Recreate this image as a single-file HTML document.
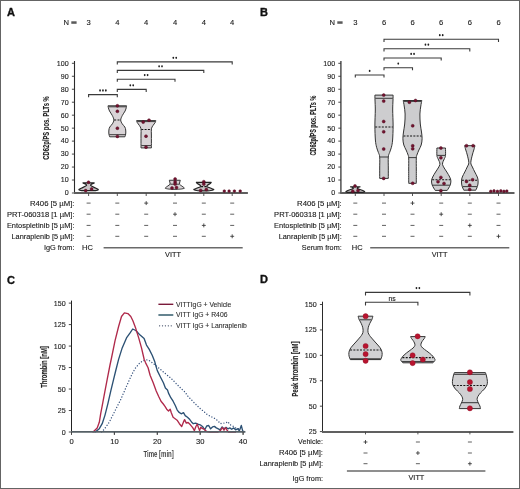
<!DOCTYPE html><html><head><meta charset="utf-8"><style>html,body{margin:0;padding:0;background:#fff;}svg{display:block;will-change:transform;}text{font-family:"Liberation Sans", sans-serif;}</style></head><body>
<svg width="520" height="489" viewBox="0 0 520 489">
<rect x="0" y="0" width="520" height="489" fill="#fff"/>
<text x="7.00" y="15.80" font-size="11.0" text-anchor="start" font-weight="bold" fill="#111" stroke="#111" stroke-width="0.35">A</text>
<text x="63.60" y="25.40" font-size="7.6" text-anchor="start" font-weight="normal" fill="#202020"  stroke="#202020" stroke-width="0.12">N</text>
<rect x="71.30" y="21.3" width="5.3" height="2.5" fill="#5a5a5a"/>
<text x="88.60" y="25.40" font-size="7.6" text-anchor="middle" font-weight="normal" fill="#202020"  stroke="#202020" stroke-width="0.12">3</text>
<text x="117.30" y="25.40" font-size="7.6" text-anchor="middle" font-weight="normal" fill="#202020"  stroke="#202020" stroke-width="0.12">4</text>
<text x="146.20" y="25.40" font-size="7.6" text-anchor="middle" font-weight="normal" fill="#202020"  stroke="#202020" stroke-width="0.12">4</text>
<text x="175.00" y="25.40" font-size="7.6" text-anchor="middle" font-weight="normal" fill="#202020"  stroke="#202020" stroke-width="0.12">4</text>
<text x="203.80" y="25.40" font-size="7.6" text-anchor="middle" font-weight="normal" fill="#202020"  stroke="#202020" stroke-width="0.12">4</text>
<text x="232.20" y="25.40" font-size="7.6" text-anchor="middle" font-weight="normal" fill="#202020"  stroke="#202020" stroke-width="0.12">4</text>
<line x1="74.50" y1="61.00" x2="74.50" y2="193.50" stroke="#2a2a2a" stroke-width="1.1" />
<line x1="71.90" y1="193.00" x2="74.50" y2="193.00" stroke="#333" stroke-width="0.9" />
<text x="68.70" y="195.35" font-size="7.1" text-anchor="end" font-weight="normal" fill="#222"  stroke="#222" stroke-width="0.12">0</text>
<line x1="71.90" y1="180.03" x2="74.50" y2="180.03" stroke="#333" stroke-width="0.9" />
<text x="68.70" y="182.38" font-size="7.1" text-anchor="end" font-weight="normal" fill="#222"  stroke="#222" stroke-width="0.12">10</text>
<line x1="71.90" y1="167.06" x2="74.50" y2="167.06" stroke="#333" stroke-width="0.9" />
<text x="68.70" y="169.41" font-size="7.1" text-anchor="end" font-weight="normal" fill="#222"  stroke="#222" stroke-width="0.12">20</text>
<line x1="71.90" y1="154.09" x2="74.50" y2="154.09" stroke="#333" stroke-width="0.9" />
<text x="68.70" y="156.44" font-size="7.1" text-anchor="end" font-weight="normal" fill="#222"  stroke="#222" stroke-width="0.12">30</text>
<line x1="71.90" y1="141.12" x2="74.50" y2="141.12" stroke="#333" stroke-width="0.9" />
<text x="68.70" y="143.47" font-size="7.1" text-anchor="end" font-weight="normal" fill="#222"  stroke="#222" stroke-width="0.12">40</text>
<line x1="71.90" y1="128.15" x2="74.50" y2="128.15" stroke="#333" stroke-width="0.9" />
<text x="68.70" y="130.50" font-size="7.1" text-anchor="end" font-weight="normal" fill="#222"  stroke="#222" stroke-width="0.12">50</text>
<line x1="71.90" y1="115.18" x2="74.50" y2="115.18" stroke="#333" stroke-width="0.9" />
<text x="68.70" y="117.53" font-size="7.1" text-anchor="end" font-weight="normal" fill="#222"  stroke="#222" stroke-width="0.12">60</text>
<line x1="71.90" y1="102.21" x2="74.50" y2="102.21" stroke="#333" stroke-width="0.9" />
<text x="68.70" y="104.56" font-size="7.1" text-anchor="end" font-weight="normal" fill="#222"  stroke="#222" stroke-width="0.12">70</text>
<line x1="71.90" y1="89.24" x2="74.50" y2="89.24" stroke="#333" stroke-width="0.9" />
<text x="68.70" y="91.59" font-size="7.1" text-anchor="end" font-weight="normal" fill="#222"  stroke="#222" stroke-width="0.12">80</text>
<line x1="71.90" y1="76.27" x2="74.50" y2="76.27" stroke="#333" stroke-width="0.9" />
<text x="68.70" y="78.62" font-size="7.1" text-anchor="end" font-weight="normal" fill="#222"  stroke="#222" stroke-width="0.12">90</text>
<line x1="71.90" y1="63.30" x2="74.50" y2="63.30" stroke="#333" stroke-width="0.9" />
<text x="68.70" y="65.65" font-size="7.1" text-anchor="end" font-weight="normal" fill="#222"  stroke="#222" stroke-width="0.12">100</text>
<line x1="74.00" y1="193.00" x2="247.90" y2="193.00" stroke="#5e5e5e" stroke-width="1.8" />
<line x1="88.60" y1="193.00" x2="88.60" y2="196.00" stroke="#444" stroke-width="0.9" />
<line x1="117.30" y1="193.00" x2="117.30" y2="196.00" stroke="#444" stroke-width="0.9" />
<line x1="146.20" y1="193.00" x2="146.20" y2="196.00" stroke="#444" stroke-width="0.9" />
<line x1="175.00" y1="193.00" x2="175.00" y2="196.00" stroke="#444" stroke-width="0.9" />
<line x1="203.80" y1="193.00" x2="203.80" y2="196.00" stroke="#444" stroke-width="0.9" />
<line x1="232.20" y1="193.00" x2="232.20" y2="196.00" stroke="#444" stroke-width="0.9" />
<text x="0.00" y="0.00" font-size="8.7" text-anchor="middle" font-weight="bold" fill="#222" textLength="63.6" lengthAdjust="spacingAndGlyphs" transform="translate(49.40,128.0) rotate(-90)" stroke="#222" stroke-width="0.1">CD62p/PS pos. PLTs %</text>
<path d="M94.20,182.90 C93.60,183.30 90.20,184.35 90.60,185.30 C91.00,186.25 95.33,187.83 96.60,188.60 C97.87,189.37 98.53,189.55 98.20,189.90 C97.87,190.25 95.20,190.57 94.60,190.70 L82.60,190.70 C82.00,190.57 79.33,190.25 79.00,189.90 C78.67,189.55 79.33,189.37 80.60,188.60 C81.87,187.83 86.20,186.25 86.60,185.30 C87.00,184.35 83.60,183.30 83.00,182.90 Z" fill="#c9c4c6" stroke="#222" stroke-width="1.2" stroke-linejoin="round"/>
<path d="M126.60,105.80 C126.55,106.08 126.55,106.63 126.30,107.50 C126.05,108.37 125.77,109.67 125.10,111.00 C124.43,112.33 123.03,114.00 122.30,115.50 C121.57,117.00 120.72,118.62 120.70,120.00 C120.68,121.38 121.52,122.63 122.20,123.80 C122.88,124.97 124.22,125.97 124.80,127.00 C125.38,128.03 125.55,128.83 125.70,130.00 C125.85,131.17 125.83,132.87 125.70,134.00 C125.57,135.13 125.03,136.33 124.90,136.80 L109.70,136.80 C109.57,136.33 109.03,135.13 108.90,134.00 C108.77,132.87 108.75,131.17 108.90,130.00 C109.05,128.83 109.22,128.03 109.80,127.00 C110.38,125.97 111.72,124.97 112.40,123.80 C113.08,122.63 113.92,121.38 113.90,120.00 C113.88,118.62 113.03,117.00 112.30,115.50 C111.57,114.00 110.17,112.33 109.50,111.00 C108.83,109.67 108.55,108.37 108.30,107.50 C108.05,106.63 108.05,106.08 108.00,105.80 Z" fill="#d9d4d7" stroke="#333" stroke-width="1.0" stroke-linejoin="round"/>
<line x1="108.48" y1="106.80" x2="126.12" y2="106.80" stroke="#2a2a2a" stroke-width="0.9"/>
<line x1="114.20" y1="120.00" x2="120.40" y2="120.00" stroke="#151515" stroke-width="1.05" stroke-dasharray="2,1.3"/>
<line x1="109.40" y1="134.70" x2="125.20" y2="134.70" stroke="#2a2a2a" stroke-width="0.9"/>
<path d="M155.80,120.60 C155.70,120.92 155.67,121.68 155.20,122.50 C154.73,123.32 153.63,124.45 153.00,125.50 C152.37,126.55 151.67,127.22 151.40,128.80 C151.13,130.38 151.40,132.80 151.40,135.00 C151.40,137.20 151.40,139.85 151.40,142.00 C151.40,144.15 151.40,146.92 151.40,147.90 L141.00,147.90 C141.00,146.92 141.00,144.15 141.00,142.00 C141.00,139.85 141.00,137.20 141.00,135.00 C141.00,132.80 141.27,130.38 141.00,128.80 C140.73,127.22 140.03,126.55 139.40,125.50 C138.77,124.45 137.67,123.32 137.20,122.50 C136.73,121.68 136.70,120.92 136.60,120.60 Z" fill="#d9d4d7" stroke="#333" stroke-width="1.0" stroke-linejoin="round"/>
<line x1="137.22" y1="121.60" x2="155.18" y2="121.60" stroke="#2a2a2a" stroke-width="0.9"/>
<line x1="141.30" y1="129.40" x2="151.10" y2="129.40" stroke="#151515" stroke-width="1.05" stroke-dasharray="2,1.3"/>
<line x1="141.30" y1="145.60" x2="151.10" y2="145.60" stroke="#2a2a2a" stroke-width="0.9"/>
<path d="M180.30,180.25 C180.22,180.54 179.92,181.33 179.80,182.00 C179.68,182.67 179.27,183.58 179.60,184.25 C179.93,184.92 181.10,185.46 181.80,186.00 C182.50,186.54 183.38,187.12 183.80,187.50 C184.22,187.88 184.72,188.05 184.30,188.30 C183.88,188.55 182.38,188.83 181.30,189.00 C180.22,189.17 178.38,189.25 177.80,189.30 L171.80,189.30 C171.22,189.25 169.38,189.17 168.30,189.00 C167.22,188.83 165.72,188.55 165.30,188.30 C164.88,188.05 165.38,187.88 165.80,187.50 C166.22,187.12 167.10,186.54 167.80,186.00 C168.50,185.46 169.67,184.92 170.00,184.25 C170.33,183.58 169.92,182.67 169.80,182.00 C169.68,181.33 169.38,180.54 169.30,180.25 Z" fill="#d9d4d7" stroke="#333" stroke-width="1.0" stroke-linejoin="round"/>
<line x1="170.30" y1="184.20" x2="179.30" y2="184.20" stroke="#2a2a2a" stroke-width="0.9"/>
<path d="M211.20,182.30 C211.05,182.50 210.87,183.05 210.30,183.50 C209.73,183.95 208.38,184.48 207.80,185.00 C207.22,185.52 206.38,186.10 206.80,186.60 C207.22,187.10 209.22,187.55 210.30,188.00 C211.38,188.45 212.77,189.00 213.30,189.30 C213.83,189.60 213.92,189.60 213.50,189.80 C213.08,190.00 211.92,190.32 210.80,190.50 C209.68,190.68 207.47,190.83 206.80,190.90 L200.80,190.90 C200.13,190.83 197.92,190.68 196.80,190.50 C195.68,190.32 194.52,190.00 194.10,189.80 C193.68,189.60 193.77,189.60 194.30,189.30 C194.83,189.00 196.22,188.45 197.30,188.00 C198.38,187.55 200.38,187.10 200.80,186.60 C201.22,186.10 200.38,185.52 199.80,185.00 C199.22,184.48 197.87,183.95 197.30,183.50 C196.73,183.05 196.55,182.50 196.40,182.30 Z" fill="#c9c4c6" stroke="#222" stroke-width="1.2" stroke-linejoin="round"/>
<line x1="201.10" y1="186.60" x2="206.50" y2="186.60" stroke="#151515" stroke-width="1.05" stroke-dasharray="2,1.3"/>
<circle cx="88.50" cy="182.30" r="1.5" fill="#731330" stroke="#4e0a1c" stroke-width="0.45"/>
<circle cx="85.70" cy="190.60" r="1.5" fill="#731330" stroke="#4e0a1c" stroke-width="0.45"/>
<circle cx="91.60" cy="189.00" r="1.5" fill="#731330" stroke="#4e0a1c" stroke-width="0.45"/>
<circle cx="117.40" cy="105.80" r="1.5" fill="#731330" stroke="#4e0a1c" stroke-width="0.45"/>
<circle cx="117.40" cy="111.30" r="1.5" fill="#731330" stroke="#4e0a1c" stroke-width="0.45"/>
<circle cx="117.40" cy="128.20" r="1.5" fill="#731330" stroke="#4e0a1c" stroke-width="0.45"/>
<circle cx="117.40" cy="136.40" r="1.5" fill="#731330" stroke="#4e0a1c" stroke-width="0.45"/>
<circle cx="149.00" cy="120.20" r="1.5" fill="#731330" stroke="#4e0a1c" stroke-width="0.45"/>
<circle cx="143.20" cy="122.10" r="1.5" fill="#731330" stroke="#4e0a1c" stroke-width="0.45"/>
<circle cx="146.00" cy="136.20" r="1.5" fill="#731330" stroke="#4e0a1c" stroke-width="0.45"/>
<circle cx="146.00" cy="147.20" r="1.5" fill="#731330" stroke="#4e0a1c" stroke-width="0.45"/>
<circle cx="175.10" cy="179.00" r="1.5" fill="#731330" stroke="#4e0a1c" stroke-width="0.45"/>
<circle cx="175.10" cy="182.00" r="1.5" fill="#731330" stroke="#4e0a1c" stroke-width="0.45"/>
<circle cx="175.10" cy="184.00" r="1.5" fill="#731330" stroke="#4e0a1c" stroke-width="0.45"/>
<circle cx="172.00" cy="188.00" r="1.5" fill="#731330" stroke="#4e0a1c" stroke-width="0.45"/>
<circle cx="176.50" cy="187.50" r="1.5" fill="#731330" stroke="#4e0a1c" stroke-width="0.45"/>
<circle cx="203.80" cy="181.70" r="1.5" fill="#731330" stroke="#4e0a1c" stroke-width="0.45"/>
<circle cx="203.80" cy="184.10" r="1.5" fill="#731330" stroke="#4e0a1c" stroke-width="0.45"/>
<circle cx="200.70" cy="190.40" r="1.5" fill="#731330" stroke="#4e0a1c" stroke-width="0.45"/>
<circle cx="206.30" cy="189.60" r="1.5" fill="#731330" stroke="#4e0a1c" stroke-width="0.45"/>
<circle cx="224.30" cy="191.10" r="1.35" fill="#731330" stroke="#4e0a1c" stroke-width="0.45"/>
<circle cx="229.10" cy="191.10" r="1.35" fill="#731330" stroke="#4e0a1c" stroke-width="0.45"/>
<circle cx="234.40" cy="191.10" r="1.35" fill="#731330" stroke="#4e0a1c" stroke-width="0.45"/>
<circle cx="240.20" cy="191.10" r="1.35" fill="#731330" stroke="#4e0a1c" stroke-width="0.45"/>
<path d="M88.60,97.20 L88.60,94.60 L117.30,94.60 L117.30,97.20" fill="none" stroke="#3a3a3a" stroke-width="1.1"/>
<ellipse cx="100.05" cy="90.50" rx="0.88" ry="1.14" fill="#1e1e1e"/>
<ellipse cx="102.95" cy="90.50" rx="0.88" ry="1.14" fill="#1e1e1e"/>
<ellipse cx="105.85" cy="90.50" rx="0.88" ry="1.14" fill="#1e1e1e"/>
<path d="M117.30,92.00 L117.30,89.40 L146.20,89.40 L146.20,92.00" fill="none" stroke="#3a3a3a" stroke-width="1.1"/>
<ellipse cx="130.30" cy="85.30" rx="0.88" ry="1.14" fill="#1e1e1e"/>
<ellipse cx="133.20" cy="85.30" rx="0.88" ry="1.14" fill="#1e1e1e"/>
<path d="M117.30,81.80 L117.30,79.20 L175.00,79.20 L175.00,81.80" fill="none" stroke="#3a3a3a" stroke-width="1.1"/>
<ellipse cx="144.70" cy="75.10" rx="0.88" ry="1.14" fill="#1e1e1e"/>
<ellipse cx="147.60" cy="75.10" rx="0.88" ry="1.14" fill="#1e1e1e"/>
<path d="M117.30,73.00 L117.30,70.40 L203.80,70.40 L203.80,73.00" fill="none" stroke="#3a3a3a" stroke-width="1.1"/>
<ellipse cx="159.10" cy="66.30" rx="0.88" ry="1.14" fill="#1e1e1e"/>
<ellipse cx="162.00" cy="66.30" rx="0.88" ry="1.14" fill="#1e1e1e"/>
<path d="M117.30,64.50 L117.30,61.90 L232.20,61.90 L232.20,64.50" fill="none" stroke="#3a3a3a" stroke-width="1.1"/>
<ellipse cx="173.30" cy="57.80" rx="0.88" ry="1.14" fill="#1e1e1e"/>
<ellipse cx="176.20" cy="57.80" rx="0.88" ry="1.14" fill="#1e1e1e"/>
<text x="74.50" y="205.80" font-size="7.55" text-anchor="end" font-weight="normal" fill="#202020" textLength="44.6" lengthAdjust="spacingAndGlyphs" stroke="#202020" stroke-width="0.12">R406 [5 µM]:</text>
<line x1="86.60" y1="203.10" x2="90.60" y2="203.10" stroke="#606060" stroke-width="1.0" />
<line x1="115.30" y1="203.10" x2="119.30" y2="203.10" stroke="#606060" stroke-width="1.0" />
<line x1="144.25" y1="203.10" x2="148.15" y2="203.10" stroke="#333" stroke-width="0.85" />
<line x1="146.20" y1="201.15" x2="146.20" y2="205.05" stroke="#333" stroke-width="0.85" />
<line x1="173.00" y1="203.10" x2="177.00" y2="203.10" stroke="#606060" stroke-width="1.0" />
<line x1="201.80" y1="203.10" x2="205.80" y2="203.10" stroke="#606060" stroke-width="1.0" />
<line x1="230.20" y1="203.10" x2="234.20" y2="203.10" stroke="#606060" stroke-width="1.0" />
<text x="74.50" y="216.90" font-size="7.55" text-anchor="end" font-weight="normal" fill="#202020" textLength="67.6" lengthAdjust="spacingAndGlyphs" stroke="#202020" stroke-width="0.12">PRT-060318 [1 µM]:</text>
<line x1="86.60" y1="214.20" x2="90.60" y2="214.20" stroke="#606060" stroke-width="1.0" />
<line x1="115.30" y1="214.20" x2="119.30" y2="214.20" stroke="#606060" stroke-width="1.0" />
<line x1="144.20" y1="214.20" x2="148.20" y2="214.20" stroke="#606060" stroke-width="1.0" />
<line x1="173.05" y1="214.20" x2="176.95" y2="214.20" stroke="#333" stroke-width="0.85" />
<line x1="175.00" y1="212.25" x2="175.00" y2="216.15" stroke="#333" stroke-width="0.85" />
<line x1="201.80" y1="214.20" x2="205.80" y2="214.20" stroke="#606060" stroke-width="1.0" />
<line x1="230.20" y1="214.20" x2="234.20" y2="214.20" stroke="#606060" stroke-width="1.0" />
<text x="74.50" y="228.10" font-size="7.55" text-anchor="end" font-weight="normal" fill="#202020" textLength="67.6" lengthAdjust="spacingAndGlyphs" stroke="#202020" stroke-width="0.12">Entospletinib [5 µM]:</text>
<line x1="86.60" y1="225.40" x2="90.60" y2="225.40" stroke="#606060" stroke-width="1.0" />
<line x1="115.30" y1="225.40" x2="119.30" y2="225.40" stroke="#606060" stroke-width="1.0" />
<line x1="144.20" y1="225.40" x2="148.20" y2="225.40" stroke="#606060" stroke-width="1.0" />
<line x1="173.00" y1="225.40" x2="177.00" y2="225.40" stroke="#606060" stroke-width="1.0" />
<line x1="201.85" y1="225.40" x2="205.75" y2="225.40" stroke="#333" stroke-width="0.85" />
<line x1="203.80" y1="223.45" x2="203.80" y2="227.35" stroke="#333" stroke-width="0.85" />
<line x1="230.20" y1="225.40" x2="234.20" y2="225.40" stroke="#606060" stroke-width="1.0" />
<text x="74.50" y="239.00" font-size="7.55" text-anchor="end" font-weight="normal" fill="#202020" textLength="63.0" lengthAdjust="spacingAndGlyphs" stroke="#202020" stroke-width="0.12">Lanraplenib [5 µM]:</text>
<line x1="86.60" y1="236.30" x2="90.60" y2="236.30" stroke="#606060" stroke-width="1.0" />
<line x1="115.30" y1="236.30" x2="119.30" y2="236.30" stroke="#606060" stroke-width="1.0" />
<line x1="144.20" y1="236.30" x2="148.20" y2="236.30" stroke="#606060" stroke-width="1.0" />
<line x1="173.00" y1="236.30" x2="177.00" y2="236.30" stroke="#606060" stroke-width="1.0" />
<line x1="201.80" y1="236.30" x2="205.80" y2="236.30" stroke="#606060" stroke-width="1.0" />
<line x1="230.25" y1="236.30" x2="234.15" y2="236.30" stroke="#333" stroke-width="0.85" />
<line x1="232.20" y1="234.35" x2="232.20" y2="238.25" stroke="#333" stroke-width="0.85" />
<text x="74.50" y="250.00" font-size="7.55" text-anchor="end" font-weight="normal" fill="#202020" textLength="30.6" lengthAdjust="spacingAndGlyphs" stroke="#202020" stroke-width="0.12">IgG from:</text>
<text x="87.40" y="250.00" font-size="7.5" text-anchor="middle" font-weight="normal" fill="#202020"  stroke="#202020" stroke-width="0.12">HC</text>
<line x1="103.60" y1="247.80" x2="242.70" y2="247.80" stroke="#6a6a6a" stroke-width="1.5" />
<text x="173.00" y="257.10" font-size="7.3" text-anchor="middle" font-weight="normal" fill="#202020"  stroke="#202020" stroke-width="0.12">VITT</text>
<text x="260.00" y="15.80" font-size="11.0" text-anchor="start" font-weight="bold" fill="#111" stroke="#111" stroke-width="0.35">B</text>
<text x="329.60" y="25.40" font-size="7.6" text-anchor="start" font-weight="normal" fill="#202020"  stroke="#202020" stroke-width="0.12">N</text>
<rect x="337.30" y="21.3" width="5.3" height="2.5" fill="#5a5a5a"/>
<text x="355.30" y="25.40" font-size="7.6" text-anchor="middle" font-weight="normal" fill="#202020"  stroke="#202020" stroke-width="0.12">3</text>
<text x="384.00" y="25.40" font-size="7.6" text-anchor="middle" font-weight="normal" fill="#202020"  stroke="#202020" stroke-width="0.12">6</text>
<text x="412.50" y="25.40" font-size="7.6" text-anchor="middle" font-weight="normal" fill="#202020"  stroke="#202020" stroke-width="0.12">6</text>
<text x="441.20" y="25.40" font-size="7.6" text-anchor="middle" font-weight="normal" fill="#202020"  stroke="#202020" stroke-width="0.12">6</text>
<text x="469.80" y="25.40" font-size="7.6" text-anchor="middle" font-weight="normal" fill="#202020"  stroke="#202020" stroke-width="0.12">6</text>
<text x="498.50" y="25.40" font-size="7.6" text-anchor="middle" font-weight="normal" fill="#202020"  stroke="#202020" stroke-width="0.12">6</text>
<line x1="340.90" y1="61.00" x2="340.90" y2="193.50" stroke="#444" stroke-width="1.4" />
<line x1="338.30" y1="193.00" x2="340.90" y2="193.00" stroke="#333" stroke-width="0.9" />
<text x="335.10" y="195.35" font-size="7.1" text-anchor="end" font-weight="normal" fill="#222"  stroke="#222" stroke-width="0.12">0</text>
<line x1="338.30" y1="180.03" x2="340.90" y2="180.03" stroke="#333" stroke-width="0.9" />
<text x="335.10" y="182.38" font-size="7.1" text-anchor="end" font-weight="normal" fill="#222"  stroke="#222" stroke-width="0.12">10</text>
<line x1="338.30" y1="167.06" x2="340.90" y2="167.06" stroke="#333" stroke-width="0.9" />
<text x="335.10" y="169.41" font-size="7.1" text-anchor="end" font-weight="normal" fill="#222"  stroke="#222" stroke-width="0.12">20</text>
<line x1="338.30" y1="154.09" x2="340.90" y2="154.09" stroke="#333" stroke-width="0.9" />
<text x="335.10" y="156.44" font-size="7.1" text-anchor="end" font-weight="normal" fill="#222"  stroke="#222" stroke-width="0.12">30</text>
<line x1="338.30" y1="141.12" x2="340.90" y2="141.12" stroke="#333" stroke-width="0.9" />
<text x="335.10" y="143.47" font-size="7.1" text-anchor="end" font-weight="normal" fill="#222"  stroke="#222" stroke-width="0.12">40</text>
<line x1="338.30" y1="128.15" x2="340.90" y2="128.15" stroke="#333" stroke-width="0.9" />
<text x="335.10" y="130.50" font-size="7.1" text-anchor="end" font-weight="normal" fill="#222"  stroke="#222" stroke-width="0.12">50</text>
<line x1="338.30" y1="115.18" x2="340.90" y2="115.18" stroke="#333" stroke-width="0.9" />
<text x="335.10" y="117.53" font-size="7.1" text-anchor="end" font-weight="normal" fill="#222"  stroke="#222" stroke-width="0.12">60</text>
<line x1="338.30" y1="102.21" x2="340.90" y2="102.21" stroke="#333" stroke-width="0.9" />
<text x="335.10" y="104.56" font-size="7.1" text-anchor="end" font-weight="normal" fill="#222"  stroke="#222" stroke-width="0.12">70</text>
<line x1="338.30" y1="89.24" x2="340.90" y2="89.24" stroke="#333" stroke-width="0.9" />
<text x="335.10" y="91.59" font-size="7.1" text-anchor="end" font-weight="normal" fill="#222"  stroke="#222" stroke-width="0.12">80</text>
<line x1="338.30" y1="76.27" x2="340.90" y2="76.27" stroke="#333" stroke-width="0.9" />
<text x="335.10" y="78.62" font-size="7.1" text-anchor="end" font-weight="normal" fill="#222"  stroke="#222" stroke-width="0.12">90</text>
<line x1="338.30" y1="63.30" x2="340.90" y2="63.30" stroke="#333" stroke-width="0.9" />
<text x="335.10" y="65.65" font-size="7.1" text-anchor="end" font-weight="normal" fill="#222"  stroke="#222" stroke-width="0.12">100</text>
<line x1="340.40" y1="193.00" x2="514.50" y2="193.00" stroke="#5e5e5e" stroke-width="1.8" />
<line x1="355.30" y1="193.00" x2="355.30" y2="196.00" stroke="#444" stroke-width="0.9" />
<line x1="384.00" y1="193.00" x2="384.00" y2="196.00" stroke="#444" stroke-width="0.9" />
<line x1="412.50" y1="193.00" x2="412.50" y2="196.00" stroke="#444" stroke-width="0.9" />
<line x1="441.20" y1="193.00" x2="441.20" y2="196.00" stroke="#444" stroke-width="0.9" />
<line x1="469.80" y1="193.00" x2="469.80" y2="196.00" stroke="#444" stroke-width="0.9" />
<line x1="498.50" y1="193.00" x2="498.50" y2="196.00" stroke="#444" stroke-width="0.9" />
<text x="0.00" y="0.00" font-size="8.7" text-anchor="middle" font-weight="bold" fill="#222" textLength="60.0" lengthAdjust="spacingAndGlyphs" transform="translate(316.40,125.6) rotate(-90)" stroke="#222" stroke-width="0.1">CD62p/PS pos. PLTs %</text>
<path d="M360.05,186.75 C359.59,187.01 356.84,187.68 357.30,188.30 C357.76,188.93 361.55,189.92 362.80,190.50 C364.05,191.08 364.88,191.48 364.80,191.80 C364.72,192.12 362.72,192.30 362.30,192.40 L348.30,192.40 C347.88,192.30 345.88,192.12 345.80,191.80 C345.72,191.48 346.55,191.08 347.80,190.50 C349.05,189.92 352.84,188.93 353.30,188.30 C353.76,187.68 351.01,187.01 350.55,186.75 Z" fill="#c9c4c6" stroke="#222" stroke-width="1.2" stroke-linejoin="round"/>
<path d="M393.10,95.10 C393.08,95.92 393.07,97.52 393.00,100.00 C392.93,102.48 392.68,105.67 392.70,110.00 C392.72,114.33 393.12,121.00 393.10,126.00 C393.08,131.00 392.88,136.45 392.60,140.00 C392.32,143.55 391.90,145.22 391.40,147.30 C390.90,149.38 390.12,150.88 389.60,152.50 C389.08,154.12 388.52,154.42 388.30,157.00 C388.08,159.58 388.30,164.43 388.30,168.00 C388.30,171.57 388.30,176.67 388.30,178.40 L379.70,178.40 C379.70,176.67 379.70,171.57 379.70,168.00 C379.70,164.43 379.92,159.58 379.70,157.00 C379.48,154.42 378.92,154.12 378.40,152.50 C377.88,150.88 377.10,149.38 376.60,147.30 C376.10,145.22 375.68,143.55 375.40,140.00 C375.12,136.45 374.92,131.00 374.90,126.00 C374.88,121.00 375.28,114.33 375.30,110.00 C375.32,105.67 375.07,102.48 375.00,100.00 C374.93,97.52 374.92,95.92 374.90,95.10 Z" fill="#cdcdcf" stroke="#333" stroke-width="1.0" stroke-linejoin="round"/>
<line x1="375.27" y1="98.30" x2="392.73" y2="98.30" stroke="#2a2a2a" stroke-width="0.9"/>
<line x1="375.23" y1="126.90" x2="392.77" y2="126.90" stroke="#151515" stroke-width="1.05" stroke-dasharray="2,1.3"/>
<line x1="380.00" y1="157.00" x2="388.00" y2="157.00" stroke="#2a2a2a" stroke-width="0.9"/>
<path d="M421.80,100.50 C421.63,101.42 421.12,103.75 420.80,106.00 C420.48,108.25 419.98,111.00 419.90,114.00 C419.82,117.00 420.03,121.00 420.30,124.00 C420.57,127.00 421.20,129.55 421.50,132.00 C421.80,134.45 422.15,136.53 422.10,138.70 C422.05,140.87 421.73,143.12 421.20,145.00 C420.67,146.88 419.62,148.33 418.90,150.00 C418.18,151.67 417.33,153.67 416.90,155.00 C416.47,156.33 416.40,155.50 416.30,158.00 C416.20,160.50 416.30,165.78 416.30,170.00 C416.30,174.22 416.30,181.08 416.30,183.30 L408.70,183.30 C408.70,181.08 408.70,174.22 408.70,170.00 C408.70,165.78 408.80,160.50 408.70,158.00 C408.60,155.50 408.53,156.33 408.10,155.00 C407.67,153.67 406.82,151.67 406.10,150.00 C405.38,148.33 404.33,146.88 403.80,145.00 C403.27,143.12 402.95,140.87 402.90,138.70 C402.85,136.53 403.20,134.45 403.50,132.00 C403.80,129.55 404.43,127.00 404.70,124.00 C404.97,121.00 405.18,117.00 405.10,114.00 C405.02,111.00 404.52,108.25 404.20,106.00 C403.88,103.75 403.37,101.42 403.20,100.50 Z" fill="#cdcdcf" stroke="#333" stroke-width="1.0" stroke-linejoin="round"/>
<line x1="403.66" y1="101.40" x2="421.34" y2="101.40" stroke="#2a2a2a" stroke-width="0.9"/>
<line x1="403.45" y1="135.90" x2="421.55" y2="135.90" stroke="#151515" stroke-width="1.05" stroke-dasharray="2,1.3"/>
<line x1="408.92" y1="157.60" x2="416.08" y2="157.60" stroke="#2a2a2a" stroke-width="0.9"/>
<path d="M445.50,148.00 C445.50,149.25 445.67,153.75 445.50,155.50 C445.33,157.25 444.90,157.50 444.50,158.50 C444.10,159.50 443.43,160.52 443.10,161.50 C442.77,162.48 442.32,163.32 442.50,164.40 C442.68,165.48 443.48,166.73 444.20,168.00 C444.92,169.27 445.88,170.50 446.80,172.00 C447.72,173.50 449.02,175.52 449.70,177.00 C450.38,178.48 450.82,179.57 450.90,180.90 C450.98,182.23 450.57,183.82 450.20,185.00 C449.83,186.18 449.20,187.10 448.70,188.00 C448.20,188.90 447.45,190.00 447.20,190.40 L435.20,190.40 C434.95,190.00 434.20,188.90 433.70,188.00 C433.20,187.10 432.57,186.18 432.20,185.00 C431.83,183.82 431.42,182.23 431.50,180.90 C431.58,179.57 432.02,178.48 432.70,177.00 C433.38,175.52 434.68,173.50 435.60,172.00 C436.52,170.50 437.48,169.27 438.20,168.00 C438.92,166.73 439.72,165.48 439.90,164.40 C440.08,163.32 439.63,162.48 439.30,161.50 C438.97,160.52 438.30,159.50 437.90,158.50 C437.50,157.50 437.07,157.25 436.90,155.50 C436.73,153.75 436.90,149.25 436.90,148.00 Z" fill="#cdcdcf" stroke="#333" stroke-width="1.0" stroke-linejoin="round"/>
<line x1="437.20" y1="155.40" x2="445.20" y2="155.40" stroke="#2a2a2a" stroke-width="0.9"/>
<line x1="432.17" y1="179.70" x2="450.23" y2="179.70" stroke="#151515" stroke-width="1.05" stroke-dasharray="2,1.3"/>
<line x1="432.60" y1="185.20" x2="449.80" y2="185.20" stroke="#2a2a2a" stroke-width="0.9"/>
<path d="M475.00,145.70 C474.80,146.42 474.25,148.45 473.80,150.00 C473.35,151.55 472.80,152.88 472.30,155.00 C471.80,157.12 470.78,160.70 470.80,162.70 C470.82,164.70 471.73,165.45 472.40,167.00 C473.07,168.55 473.98,170.33 474.80,172.00 C475.62,173.67 476.75,175.52 477.30,177.00 C477.85,178.48 478.02,179.57 478.10,180.90 C478.18,182.23 478.02,183.82 477.80,185.00 C477.58,186.18 477.13,187.13 476.80,188.00 C476.47,188.87 475.97,189.83 475.80,190.20 L463.80,190.20 C463.63,189.83 463.13,188.87 462.80,188.00 C462.47,187.13 462.02,186.18 461.80,185.00 C461.58,183.82 461.42,182.23 461.50,180.90 C461.58,179.57 461.75,178.48 462.30,177.00 C462.85,175.52 463.98,173.67 464.80,172.00 C465.62,170.33 466.53,168.55 467.20,167.00 C467.87,165.45 468.78,164.70 468.80,162.70 C468.82,160.70 467.80,157.12 467.30,155.00 C466.80,152.88 466.25,151.55 465.80,150.00 C465.35,148.45 464.80,146.42 464.60,145.70 Z" fill="#cdcdcf" stroke="#333" stroke-width="1.0" stroke-linejoin="round"/>
<line x1="461.92" y1="180.30" x2="477.68" y2="180.30" stroke="#151515" stroke-width="1.05" stroke-dasharray="2,1.3"/>
<line x1="462.63" y1="186.60" x2="476.97" y2="186.60" stroke="#2a2a2a" stroke-width="0.9"/>
<circle cx="355.00" cy="185.90" r="1.5" fill="#731330" stroke="#4e0a1c" stroke-width="0.45"/>
<circle cx="352.75" cy="191.30" r="1.5" fill="#731330" stroke="#4e0a1c" stroke-width="0.45"/>
<circle cx="358.00" cy="190.50" r="1.5" fill="#731330" stroke="#4e0a1c" stroke-width="0.45"/>
<circle cx="383.70" cy="95.10" r="1.5" fill="#731330" stroke="#4e0a1c" stroke-width="0.45"/>
<circle cx="383.70" cy="101.10" r="1.5" fill="#731330" stroke="#4e0a1c" stroke-width="0.45"/>
<circle cx="383.70" cy="121.50" r="1.5" fill="#731330" stroke="#4e0a1c" stroke-width="0.45"/>
<circle cx="383.70" cy="131.80" r="1.5" fill="#731330" stroke="#4e0a1c" stroke-width="0.45"/>
<circle cx="383.70" cy="149.00" r="1.5" fill="#731330" stroke="#4e0a1c" stroke-width="0.45"/>
<circle cx="383.70" cy="178.40" r="1.5" fill="#731330" stroke="#4e0a1c" stroke-width="0.45"/>
<circle cx="409.40" cy="102.20" r="1.5" fill="#731330" stroke="#4e0a1c" stroke-width="0.45"/>
<circle cx="415.50" cy="100.50" r="1.5" fill="#731330" stroke="#4e0a1c" stroke-width="0.45"/>
<circle cx="412.70" cy="125.80" r="1.5" fill="#731330" stroke="#4e0a1c" stroke-width="0.45"/>
<circle cx="412.70" cy="145.80" r="1.5" fill="#731330" stroke="#4e0a1c" stroke-width="0.45"/>
<circle cx="412.70" cy="148.80" r="1.5" fill="#731330" stroke="#4e0a1c" stroke-width="0.45"/>
<circle cx="412.70" cy="183.30" r="1.5" fill="#731330" stroke="#4e0a1c" stroke-width="0.45"/>
<circle cx="440.90" cy="148.00" r="1.5" fill="#731330" stroke="#4e0a1c" stroke-width="0.45"/>
<circle cx="440.90" cy="157.80" r="1.5" fill="#731330" stroke="#4e0a1c" stroke-width="0.45"/>
<circle cx="440.90" cy="177.40" r="1.5" fill="#731330" stroke="#4e0a1c" stroke-width="0.45"/>
<circle cx="438.00" cy="181.70" r="1.5" fill="#731330" stroke="#4e0a1c" stroke-width="0.45"/>
<circle cx="444.00" cy="183.50" r="1.5" fill="#731330" stroke="#4e0a1c" stroke-width="0.45"/>
<circle cx="440.90" cy="190.70" r="1.5" fill="#731330" stroke="#4e0a1c" stroke-width="0.45"/>
<circle cx="466.50" cy="145.70" r="1.5" fill="#731330" stroke="#4e0a1c" stroke-width="0.45"/>
<circle cx="473.10" cy="145.70" r="1.5" fill="#731330" stroke="#4e0a1c" stroke-width="0.45"/>
<circle cx="466.50" cy="181.40" r="1.5" fill="#731330" stroke="#4e0a1c" stroke-width="0.45"/>
<circle cx="472.60" cy="179.70" r="1.5" fill="#731330" stroke="#4e0a1c" stroke-width="0.45"/>
<circle cx="469.70" cy="185.20" r="1.5" fill="#731330" stroke="#4e0a1c" stroke-width="0.45"/>
<circle cx="469.70" cy="189.50" r="1.5" fill="#731330" stroke="#4e0a1c" stroke-width="0.45"/>
<circle cx="490.80" cy="191.30" r="1.35" fill="#731330" stroke="#4e0a1c" stroke-width="0.45"/>
<circle cx="494.00" cy="190.90" r="1.35" fill="#731330" stroke="#4e0a1c" stroke-width="0.45"/>
<circle cx="497.40" cy="191.30" r="1.35" fill="#731330" stroke="#4e0a1c" stroke-width="0.45"/>
<circle cx="500.80" cy="190.90" r="1.35" fill="#731330" stroke="#4e0a1c" stroke-width="0.45"/>
<circle cx="503.90" cy="191.30" r="1.35" fill="#731330" stroke="#4e0a1c" stroke-width="0.45"/>
<circle cx="506.80" cy="191.10" r="1.35" fill="#731330" stroke="#4e0a1c" stroke-width="0.45"/>
<path d="M355.30,77.60 L355.30,75.00 L384.00,75.00 L384.00,77.60" fill="none" stroke="#3a3a3a" stroke-width="1.1"/>
<ellipse cx="369.65" cy="70.90" rx="0.88" ry="1.14" fill="#1e1e1e"/>
<path d="M384.00,70.30 L384.00,67.70 L412.50,67.70 L412.50,70.30" fill="none" stroke="#3a3a3a" stroke-width="1.1"/>
<ellipse cx="398.25" cy="63.60" rx="0.88" ry="1.14" fill="#1e1e1e"/>
<path d="M384.00,60.60 L384.00,58.00 L441.20,58.00 L441.20,60.60" fill="none" stroke="#3a3a3a" stroke-width="1.1"/>
<ellipse cx="411.15" cy="53.90" rx="0.88" ry="1.14" fill="#1e1e1e"/>
<ellipse cx="414.05" cy="53.90" rx="0.88" ry="1.14" fill="#1e1e1e"/>
<path d="M384.00,51.40 L384.00,48.80 L469.80,48.80 L469.80,51.40" fill="none" stroke="#3a3a3a" stroke-width="1.1"/>
<ellipse cx="425.45" cy="44.70" rx="0.88" ry="1.14" fill="#1e1e1e"/>
<ellipse cx="428.35" cy="44.70" rx="0.88" ry="1.14" fill="#1e1e1e"/>
<path d="M384.00,41.90 L384.00,39.30 L498.50,39.30 L498.50,41.90" fill="none" stroke="#3a3a3a" stroke-width="1.1"/>
<ellipse cx="439.80" cy="35.20" rx="0.88" ry="1.14" fill="#1e1e1e"/>
<ellipse cx="442.70" cy="35.20" rx="0.88" ry="1.14" fill="#1e1e1e"/>
<text x="341.70" y="205.80" font-size="7.55" text-anchor="end" font-weight="normal" fill="#202020" textLength="44.6" lengthAdjust="spacingAndGlyphs" stroke="#202020" stroke-width="0.12">R406 [5 µM]:</text>
<line x1="353.30" y1="203.10" x2="357.30" y2="203.10" stroke="#606060" stroke-width="1.0" />
<line x1="382.00" y1="203.10" x2="386.00" y2="203.10" stroke="#606060" stroke-width="1.0" />
<line x1="410.55" y1="203.10" x2="414.45" y2="203.10" stroke="#333" stroke-width="0.85" />
<line x1="412.50" y1="201.15" x2="412.50" y2="205.05" stroke="#333" stroke-width="0.85" />
<line x1="439.20" y1="203.10" x2="443.20" y2="203.10" stroke="#606060" stroke-width="1.0" />
<line x1="467.80" y1="203.10" x2="471.80" y2="203.10" stroke="#606060" stroke-width="1.0" />
<line x1="496.50" y1="203.10" x2="500.50" y2="203.10" stroke="#606060" stroke-width="1.0" />
<text x="341.70" y="216.90" font-size="7.55" text-anchor="end" font-weight="normal" fill="#202020" textLength="67.6" lengthAdjust="spacingAndGlyphs" stroke="#202020" stroke-width="0.12">PRT-060318 [1 µM]:</text>
<line x1="353.30" y1="214.20" x2="357.30" y2="214.20" stroke="#606060" stroke-width="1.0" />
<line x1="382.00" y1="214.20" x2="386.00" y2="214.20" stroke="#606060" stroke-width="1.0" />
<line x1="410.50" y1="214.20" x2="414.50" y2="214.20" stroke="#606060" stroke-width="1.0" />
<line x1="439.25" y1="214.20" x2="443.15" y2="214.20" stroke="#333" stroke-width="0.85" />
<line x1="441.20" y1="212.25" x2="441.20" y2="216.15" stroke="#333" stroke-width="0.85" />
<line x1="467.80" y1="214.20" x2="471.80" y2="214.20" stroke="#606060" stroke-width="1.0" />
<line x1="496.50" y1="214.20" x2="500.50" y2="214.20" stroke="#606060" stroke-width="1.0" />
<text x="341.70" y="228.10" font-size="7.55" text-anchor="end" font-weight="normal" fill="#202020" textLength="67.6" lengthAdjust="spacingAndGlyphs" stroke="#202020" stroke-width="0.12">Entospletinib [5 µM]:</text>
<line x1="353.30" y1="225.40" x2="357.30" y2="225.40" stroke="#606060" stroke-width="1.0" />
<line x1="382.00" y1="225.40" x2="386.00" y2="225.40" stroke="#606060" stroke-width="1.0" />
<line x1="410.50" y1="225.40" x2="414.50" y2="225.40" stroke="#606060" stroke-width="1.0" />
<line x1="439.20" y1="225.40" x2="443.20" y2="225.40" stroke="#606060" stroke-width="1.0" />
<line x1="467.85" y1="225.40" x2="471.75" y2="225.40" stroke="#333" stroke-width="0.85" />
<line x1="469.80" y1="223.45" x2="469.80" y2="227.35" stroke="#333" stroke-width="0.85" />
<line x1="496.50" y1="225.40" x2="500.50" y2="225.40" stroke="#606060" stroke-width="1.0" />
<text x="341.70" y="239.00" font-size="7.55" text-anchor="end" font-weight="normal" fill="#202020" textLength="63.0" lengthAdjust="spacingAndGlyphs" stroke="#202020" stroke-width="0.12">Lanraplenib [5 µM]:</text>
<line x1="353.30" y1="236.30" x2="357.30" y2="236.30" stroke="#606060" stroke-width="1.0" />
<line x1="382.00" y1="236.30" x2="386.00" y2="236.30" stroke="#606060" stroke-width="1.0" />
<line x1="410.50" y1="236.30" x2="414.50" y2="236.30" stroke="#606060" stroke-width="1.0" />
<line x1="439.20" y1="236.30" x2="443.20" y2="236.30" stroke="#606060" stroke-width="1.0" />
<line x1="467.80" y1="236.30" x2="471.80" y2="236.30" stroke="#606060" stroke-width="1.0" />
<line x1="496.55" y1="236.30" x2="500.45" y2="236.30" stroke="#333" stroke-width="0.85" />
<line x1="498.50" y1="234.35" x2="498.50" y2="238.25" stroke="#333" stroke-width="0.85" />
<text x="341.70" y="250.00" font-size="7.55" text-anchor="end" font-weight="normal" fill="#202020" textLength="39.9" lengthAdjust="spacingAndGlyphs" stroke="#202020" stroke-width="0.12">Serum from:</text>
<text x="357.20" y="250.00" font-size="7.5" text-anchor="middle" font-weight="normal" fill="#202020"  stroke="#202020" stroke-width="0.12">HC</text>
<line x1="370.20" y1="247.80" x2="509.30" y2="247.80" stroke="#6a6a6a" stroke-width="1.5" />
<text x="439.60" y="257.10" font-size="7.3" text-anchor="middle" font-weight="normal" fill="#202020"  stroke="#202020" stroke-width="0.12">VITT</text>
<text x="7.00" y="283.50" font-size="11.0" text-anchor="start" font-weight="bold" fill="#111" stroke="#111" stroke-width="0.35">C</text>
<line x1="71.50" y1="300.60" x2="71.50" y2="432.50" stroke="#222" stroke-width="1.0" />
<line x1="68.80" y1="432.00" x2="71.50" y2="432.00" stroke="#333" stroke-width="0.9" />
<text x="65.70" y="434.80" font-size="7.1" text-anchor="end" font-weight="normal" fill="#222"  stroke="#222" stroke-width="0.12">0</text>
<line x1="68.80" y1="410.52" x2="71.50" y2="410.52" stroke="#333" stroke-width="0.9" />
<text x="65.70" y="413.32" font-size="7.1" text-anchor="end" font-weight="normal" fill="#222"  stroke="#222" stroke-width="0.12">25</text>
<line x1="68.80" y1="389.04" x2="71.50" y2="389.04" stroke="#333" stroke-width="0.9" />
<text x="65.70" y="391.84" font-size="7.1" text-anchor="end" font-weight="normal" fill="#222"  stroke="#222" stroke-width="0.12">50</text>
<line x1="68.80" y1="367.55" x2="71.50" y2="367.55" stroke="#333" stroke-width="0.9" />
<text x="65.70" y="370.35" font-size="7.1" text-anchor="end" font-weight="normal" fill="#222"  stroke="#222" stroke-width="0.12">75</text>
<line x1="68.80" y1="346.07" x2="71.50" y2="346.07" stroke="#333" stroke-width="0.9" />
<text x="65.70" y="348.87" font-size="7.1" text-anchor="end" font-weight="normal" fill="#222"  stroke="#222" stroke-width="0.12">100</text>
<line x1="68.80" y1="324.59" x2="71.50" y2="324.59" stroke="#333" stroke-width="0.9" />
<text x="65.70" y="327.39" font-size="7.1" text-anchor="end" font-weight="normal" fill="#222"  stroke="#222" stroke-width="0.12">125</text>
<line x1="68.80" y1="303.11" x2="71.50" y2="303.11" stroke="#333" stroke-width="0.9" />
<text x="65.70" y="305.91" font-size="7.1" text-anchor="end" font-weight="normal" fill="#222"  stroke="#222" stroke-width="0.12">150</text>
<line x1="71.50" y1="432.00" x2="71.50" y2="434.80" stroke="#444" stroke-width="0.9" />
<text x="71.50" y="444.30" font-size="7.6" text-anchor="middle" font-weight="normal" fill="#202020"  stroke="#202020" stroke-width="0.12">0</text>
<line x1="114.40" y1="432.00" x2="114.40" y2="434.80" stroke="#444" stroke-width="0.9" />
<text x="114.40" y="444.30" font-size="7.6" text-anchor="middle" font-weight="normal" fill="#202020"  stroke="#202020" stroke-width="0.12">10</text>
<line x1="157.30" y1="432.00" x2="157.30" y2="434.80" stroke="#444" stroke-width="0.9" />
<text x="157.30" y="444.30" font-size="7.6" text-anchor="middle" font-weight="normal" fill="#202020"  stroke="#202020" stroke-width="0.12">20</text>
<line x1="200.20" y1="432.00" x2="200.20" y2="434.80" stroke="#444" stroke-width="0.9" />
<text x="200.20" y="444.30" font-size="7.6" text-anchor="middle" font-weight="normal" fill="#202020"  stroke="#202020" stroke-width="0.12">30</text>
<line x1="243.10" y1="432.00" x2="243.10" y2="434.80" stroke="#444" stroke-width="0.9" />
<text x="243.10" y="444.30" font-size="7.6" text-anchor="middle" font-weight="normal" fill="#202020"  stroke="#202020" stroke-width="0.12">40</text>
<text x="158.60" y="456.60" font-size="8.2" text-anchor="middle" font-weight="bold" fill="#444" textLength="30.4" lengthAdjust="spacingAndGlyphs">Time [min]</text>
<text x="0.00" y="0.00" font-size="8.2" text-anchor="middle" font-weight="bold" fill="#202020" textLength="41.7" lengthAdjust="spacingAndGlyphs" transform="translate(46.6,367.0) rotate(-90)" stroke="#333" stroke-width="0.15">Thrombin [nM]</text>
<path d="M101.5,432.0 L102.2,431.6 L105.5,427.5 L109.2,422.3 L115.0,410.8 L120.8,399.4 L126.4,386.5 L131.8,374.5 L135.2,368.4 L137.8,365.3 L140.0,362.7 L143.0,360.8 L146.3,359.8 L148.7,360.2 L151.1,361.8 L156.2,365.8 L161.4,370.2 L166.5,374.5 L171.6,378.9 L176.7,384.0 L181.8,389.2 L185.0,392.0 L188.1,396.5 L193.8,402.3 L199.6,408.1 L203.8,411.5 L207.7,414.9 L211.5,416.8 L215.4,418.8 L218.3,421.2 L220.2,423.6 L223.1,423.1 L225.5,423.1 L227.9,421.6 L229.8,424.5 L232.7,426.0 L235.6,427.9 L238.5,428.8 L241.0,429.6" fill="none" stroke="#3b5680" stroke-width="1.4" stroke-linejoin="round" stroke-dasharray="0.01,2.9" stroke-linecap="round"/>
<path d="M94.5,432.2 L95.7,431.6 L99.3,428.7 L102.2,423.7 L105.0,415.1 L107.9,403.6 L110.8,390.8 L113.6,379.3 L115.9,370.0 L118.6,359.4 L122.2,347.9 L126.5,337.9 L130.1,332.9 L132.7,329.0 L135.8,330.5 L140.1,335.1 L144.1,338.6 L146.5,345.1 L149.1,349.1 L152.2,355.2 L154.7,361.4 L155.7,365.4 L157.3,370.6 L160.3,376.7 L163.4,382.8 L165.4,387.9 L167.5,390.0 L168.5,393.1 L170.8,397.7 L173.1,401.2 L175.4,405.8 L177.1,409.8 L178.8,412.1 L181.2,413.8 L183.5,412.7 L185.2,415.6 L187.5,417.3 L189.8,419.6 L191.5,421.9 L193.3,423.7 L195.6,423.1 L197.9,424.2 L200.2,424.8 L202.5,426.5 L204.8,429.8 L206.7,426.0 L208.7,425.5 L210.6,428.8 L212.5,426.9 L214.4,426.4 L216.3,427.9 L218.3,428.8 L220.2,429.8 L222.1,426.9 L224.0,428.8 L226.0,427.4 L227.9,428.8 L229.8,427.9 L231.7,429.3 L233.7,427.9 L235.6,429.8 L237.5,428.8 L239.4,430.8 L241.3,425.5 L242.8,431.3 L244.2,431.3" fill="none" stroke="#2c5174" stroke-width="1.35" stroke-linejoin="round" />
<path d="M92.5,432.2 L93.6,431.6 L97.2,428.0 L99.3,422.3 L100.7,413.7 L102.9,402.2 L105.0,390.8 L107.2,379.3 L110.0,365.0 L111.5,358.0 L115.0,340.8 L118.6,326.5 L121.5,316.5 L124.4,312.9 L127.9,313.6 L130.8,316.5 L132.9,320.7 L135.8,328.6 L138.7,337.9 L141.5,347.9 L144.2,359.5 L145.5,362.6 L148.1,367.8 L150.1,375.2 L153.2,382.8 L156.2,391.0 L158.7,396.5 L161.0,401.2 L163.3,404.0 L165.0,406.3 L166.7,409.2 L168.5,411.0 L170.2,409.2 L171.3,412.7 L173.1,417.3 L174.8,418.5 L177.1,420.2 L179.4,423.7 L181.7,426.5 L183.5,421.9 L184.6,419.6 L186.3,423.1 L188.1,422.5 L190.4,424.8 L192.7,427.7 L194.4,430.6 L195.9,426.5 L197.3,424.2 L198.5,427.7 L199.6,430.6 L200.8,427.1 L201.9,428.3 L203.7,428.8 L205.4,430.6 L207.0,431.6 L210.0,432.0 L218.0,432.0 L220.5,430.5 L222.3,427.5 L224.0,430.2 L225.6,427.6 L227.2,430.5 L228.5,432.0 L236.0,432.0" fill="none" stroke="#b02a4b" stroke-width="1.35" stroke-linejoin="round" />
<line x1="71.00" y1="431.90" x2="245.40" y2="431.90" stroke="#566066" stroke-width="1.9" />
<line x1="71.50" y1="432.00" x2="71.50" y2="434.80" stroke="#444" stroke-width="0.9" />
<line x1="114.40" y1="432.00" x2="114.40" y2="434.80" stroke="#444" stroke-width="0.9" />
<line x1="157.30" y1="432.00" x2="157.30" y2="434.80" stroke="#444" stroke-width="0.9" />
<line x1="200.20" y1="432.00" x2="200.20" y2="434.80" stroke="#444" stroke-width="0.9" />
<line x1="243.10" y1="432.00" x2="243.10" y2="434.80" stroke="#444" stroke-width="0.9" />
<line x1="158.40" y1="304.30" x2="173.30" y2="304.30" stroke="#7a1a3a" stroke-width="1.4" />
<line x1="158.40" y1="315.00" x2="173.30" y2="315.00" stroke="#4a6e7c" stroke-width="1.7" />
<line x1="159.60" y1="325.80" x2="173.30" y2="325.80" stroke="#3a4660" stroke-width="1.3" stroke-dasharray="0.01,2.9" stroke-linecap="round"/>
<text x="176.00" y="306.70" font-size="6.8" text-anchor="start" font-weight="normal" fill="#2a2a2a" stroke="#2a2a2a" stroke-width="0.08">VITTIgG + Vehicle</text>
<text x="176.00" y="317.40" font-size="6.8" text-anchor="start" font-weight="normal" fill="#2a2a2a" stroke="#2a2a2a" stroke-width="0.08">VITT IgG + R406</text>
<text x="176.00" y="328.20" font-size="6.8" text-anchor="start" font-weight="normal" fill="#2a2a2a" stroke="#2a2a2a" stroke-width="0.08">VITT IgG + Lanraplenib</text>
<text x="260.00" y="282.80" font-size="11.0" text-anchor="start" font-weight="bold" fill="#111" stroke="#111" stroke-width="0.35">D</text>
<line x1="322.50" y1="301.70" x2="322.50" y2="432.10" stroke="#2a2a2a" stroke-width="1.0" />
<line x1="319.90" y1="431.60" x2="322.50" y2="431.60" stroke="#333" stroke-width="0.9" />
<text x="316.70" y="433.95" font-size="7.1" text-anchor="end" font-weight="normal" fill="#222"  stroke="#222" stroke-width="0.12">25</text>
<line x1="319.90" y1="406.18" x2="322.50" y2="406.18" stroke="#333" stroke-width="0.9" />
<text x="316.70" y="408.53" font-size="7.1" text-anchor="end" font-weight="normal" fill="#222"  stroke="#222" stroke-width="0.12">50</text>
<line x1="319.90" y1="380.76" x2="322.50" y2="380.76" stroke="#333" stroke-width="0.9" />
<text x="316.70" y="383.11" font-size="7.1" text-anchor="end" font-weight="normal" fill="#222"  stroke="#222" stroke-width="0.12">75</text>
<line x1="319.90" y1="355.34" x2="322.50" y2="355.34" stroke="#333" stroke-width="0.9" />
<text x="316.70" y="357.69" font-size="7.1" text-anchor="end" font-weight="normal" fill="#222"  stroke="#222" stroke-width="0.12">100</text>
<line x1="319.90" y1="329.92" x2="322.50" y2="329.92" stroke="#333" stroke-width="0.9" />
<text x="316.70" y="332.27" font-size="7.1" text-anchor="end" font-weight="normal" fill="#222"  stroke="#222" stroke-width="0.12">125</text>
<line x1="319.90" y1="304.50" x2="322.50" y2="304.50" stroke="#333" stroke-width="0.9" />
<text x="316.70" y="306.85" font-size="7.1" text-anchor="end" font-weight="normal" fill="#222"  stroke="#222" stroke-width="0.12">150</text>
<line x1="322.00" y1="432.00" x2="513.40" y2="432.00" stroke="#606060" stroke-width="2.0" />
<line x1="365.50" y1="431.60" x2="365.50" y2="434.40" stroke="#444" stroke-width="0.9" />
<line x1="417.90" y1="431.60" x2="417.90" y2="434.40" stroke="#444" stroke-width="0.9" />
<line x1="469.90" y1="431.60" x2="469.90" y2="434.40" stroke="#444" stroke-width="0.9" />
<text x="0.00" y="0.00" font-size="8.3" text-anchor="middle" font-weight="bold" fill="#222" textLength="55" lengthAdjust="spacingAndGlyphs" transform="translate(297.9,369.0) rotate(-90)" stroke="#222" stroke-width="0.12">Peak thrombin [nM]</text>
<path d="M372.90,316.20 C372.73,316.77 372.30,318.63 371.90,319.60 C371.50,320.57 371.00,321.02 370.50,322.00 C370.00,322.98 369.32,324.33 368.90,325.50 C368.48,326.67 368.13,327.83 368.00,329.00 C367.87,330.17 367.83,331.42 368.10,332.50 C368.37,333.58 369.00,334.57 369.60,335.50 C370.20,336.43 370.78,337.02 371.70,338.10 C372.62,339.18 373.93,340.68 375.10,342.00 C376.27,343.32 377.72,344.80 378.70,346.00 C379.68,347.20 380.43,348.08 381.00,349.20 C381.57,350.32 381.95,351.53 382.10,352.70 C382.25,353.87 382.13,355.05 381.90,356.20 C381.67,357.35 380.90,359.03 380.70,359.60 L350.30,359.60 C350.10,359.03 349.33,357.35 349.10,356.20 C348.87,355.05 348.75,353.87 348.90,352.70 C349.05,351.53 349.43,350.32 350.00,349.20 C350.57,348.08 351.32,347.20 352.30,346.00 C353.28,344.80 354.73,343.32 355.90,342.00 C357.07,340.68 358.38,339.18 359.30,338.10 C360.22,337.02 360.80,336.43 361.40,335.50 C362.00,334.57 362.63,333.58 362.90,332.50 C363.17,331.42 363.13,330.17 363.00,329.00 C362.87,327.83 362.52,326.67 362.10,325.50 C361.68,324.33 361.00,322.98 360.50,322.00 C360.00,321.02 359.50,320.57 359.10,319.60 C358.70,318.63 358.27,316.77 358.10,316.20 Z" fill="#d0d0d2" stroke="#333" stroke-width="1.0" stroke-linejoin="round"/>
<line x1="359.52" y1="319.80" x2="371.48" y2="319.80" stroke="#222" stroke-width="0.9"/>
<line x1="350.08" y1="349.90" x2="380.92" y2="349.90" stroke="#151515" stroke-width="1.05" stroke-dasharray="2,1.3"/>
<line x1="350.32" y1="358.80" x2="380.68" y2="358.80" stroke="#222" stroke-width="0.9"/>
<path d="M425.20,336.60 C425.05,336.92 424.72,337.85 424.30,338.50 C423.88,339.15 423.20,339.75 422.70,340.50 C422.20,341.25 421.60,342.18 421.30,343.00 C421.00,343.82 420.67,344.57 420.90,345.40 C421.13,346.23 421.73,347.07 422.70,348.00 C423.67,348.93 425.20,349.83 426.70,351.00 C428.20,352.17 430.33,353.63 431.70,355.00 C433.07,356.37 434.45,358.17 434.90,359.20 C435.35,360.23 434.73,360.60 434.40,361.20 C434.07,361.80 433.15,362.53 432.90,362.80 L402.90,362.80 C402.65,362.53 401.73,361.80 401.40,361.20 C401.07,360.60 400.45,360.23 400.90,359.20 C401.35,358.17 402.73,356.37 404.10,355.00 C405.47,353.63 407.60,352.17 409.10,351.00 C410.60,349.83 412.13,348.93 413.10,348.00 C414.07,347.07 414.67,346.23 414.90,345.40 C415.13,344.57 414.80,343.82 414.50,343.00 C414.20,342.18 413.60,341.25 413.10,340.50 C412.60,339.75 411.92,339.15 411.50,338.50 C411.08,337.85 410.75,336.92 410.60,336.60 Z" fill="#d0d0d2" stroke="#333" stroke-width="1.0" stroke-linejoin="round"/>
<line x1="402.42" y1="357.60" x2="433.38" y2="357.60" stroke="#151515" stroke-width="1.05" stroke-dasharray="2,1.3"/>
<line x1="402.07" y1="361.60" x2="433.72" y2="361.60" stroke="#222" stroke-width="0.9"/>
<path d="M485.40,372.60 C485.58,373.17 486.17,374.53 486.50,376.00 C486.83,377.47 487.33,379.90 487.40,381.40 C487.47,382.90 487.40,383.73 486.90,385.00 C486.40,386.27 485.48,387.67 484.40,389.00 C483.32,390.33 481.48,391.75 480.40,393.00 C479.32,394.25 478.45,395.43 477.90,396.50 C477.35,397.57 477.02,398.32 477.10,399.40 C477.18,400.48 477.93,401.90 478.40,403.00 C478.87,404.10 479.55,405.07 479.90,406.00 C480.25,406.93 480.40,408.17 480.50,408.60 L459.30,408.60 C459.40,408.17 459.55,406.93 459.90,406.00 C460.25,405.07 460.93,404.10 461.40,403.00 C461.87,401.90 462.62,400.48 462.70,399.40 C462.78,398.32 462.45,397.57 461.90,396.50 C461.35,395.43 460.48,394.25 459.40,393.00 C458.32,391.75 456.48,390.33 455.40,389.00 C454.32,387.67 453.40,386.27 452.90,385.00 C452.40,383.73 452.33,382.90 452.40,381.40 C452.47,379.90 452.97,377.47 453.30,376.00 C453.63,374.53 454.22,373.17 454.40,372.60 Z" fill="#d0d0d2" stroke="#333" stroke-width="1.0" stroke-linejoin="round"/>
<line x1="454.15" y1="374.30" x2="485.65" y2="374.30" stroke="#222" stroke-width="0.9"/>
<line x1="453.45" y1="385.40" x2="486.35" y2="385.40" stroke="#151515" stroke-width="1.05" stroke-dasharray="2,1.3"/>
<line x1="461.81" y1="402.70" x2="477.99" y2="402.70" stroke="#222" stroke-width="0.9"/>
<circle cx="365.60" cy="316.20" r="2.6" fill="#b8142f" stroke="#8e0f25" stroke-width="0.4"/>
<circle cx="365.60" cy="346.00" r="2.6" fill="#b8142f" stroke="#8e0f25" stroke-width="0.4"/>
<circle cx="365.60" cy="354.10" r="2.6" fill="#b8142f" stroke="#8e0f25" stroke-width="0.4"/>
<circle cx="365.60" cy="360.80" r="2.6" fill="#b8142f" stroke="#8e0f25" stroke-width="0.4"/>
<circle cx="417.60" cy="336.30" r="2.6" fill="#b8142f" stroke="#8e0f25" stroke-width="0.4"/>
<circle cx="412.60" cy="355.30" r="2.6" fill="#b8142f" stroke="#8e0f25" stroke-width="0.4"/>
<circle cx="422.80" cy="359.50" r="2.6" fill="#b8142f" stroke="#8e0f25" stroke-width="0.4"/>
<circle cx="412.60" cy="363.10" r="2.6" fill="#b8142f" stroke="#8e0f25" stroke-width="0.4"/>
<circle cx="469.90" cy="372.30" r="2.6" fill="#b8142f" stroke="#8e0f25" stroke-width="0.4"/>
<circle cx="469.90" cy="382.10" r="2.6" fill="#b8142f" stroke="#8e0f25" stroke-width="0.4"/>
<circle cx="469.90" cy="389.00" r="2.6" fill="#b8142f" stroke="#8e0f25" stroke-width="0.4"/>
<circle cx="469.90" cy="408.30" r="2.6" fill="#b8142f" stroke="#8e0f25" stroke-width="0.4"/>
<path d="M365.50,295.40 L365.50,292.40 L469.90,292.40 L469.90,295.40" fill="none" stroke="#3a3a3a" stroke-width="1.1"/>
<ellipse cx="416.45" cy="288.10" rx="0.88" ry="1.14" fill="#1e1e1e"/>
<ellipse cx="419.35" cy="288.10" rx="0.88" ry="1.14" fill="#1e1e1e"/>
<path d="M365.50,305.60 L365.50,302.30 L417.90,302.30 L417.90,305.60" fill="none" stroke="#3a3a3a" stroke-width="1.1"/>
<text x="392.00" y="300.80" font-size="6.8" text-anchor="middle" font-weight="normal" fill="#202020"  stroke="#202020" stroke-width="0.12">ns</text>
<text x="323.00" y="444.20" font-size="7.4" text-anchor="end" font-weight="normal" fill="#202020" textLength="24.9" lengthAdjust="spacingAndGlyphs" stroke="#202020" stroke-width="0.12">Vehicle:</text>
<line x1="363.55" y1="442.00" x2="367.45" y2="442.00" stroke="#333" stroke-width="0.85" />
<line x1="365.50" y1="440.05" x2="365.50" y2="443.95" stroke="#333" stroke-width="0.85" />
<line x1="415.90" y1="442.00" x2="419.90" y2="442.00" stroke="#606060" stroke-width="1.0" />
<line x1="467.90" y1="442.00" x2="471.90" y2="442.00" stroke="#606060" stroke-width="1.0" />
<text x="323.00" y="455.20" font-size="7.4" text-anchor="end" font-weight="normal" fill="#202020" textLength="43.9" lengthAdjust="spacingAndGlyphs" stroke="#202020" stroke-width="0.12">R406 [5 µM]:</text>
<line x1="363.50" y1="453.00" x2="367.50" y2="453.00" stroke="#606060" stroke-width="1.0" />
<line x1="415.95" y1="453.00" x2="419.85" y2="453.00" stroke="#333" stroke-width="0.85" />
<line x1="417.90" y1="451.05" x2="417.90" y2="454.95" stroke="#333" stroke-width="0.85" />
<line x1="467.90" y1="453.00" x2="471.90" y2="453.00" stroke="#606060" stroke-width="1.0" />
<text x="323.00" y="465.90" font-size="7.4" text-anchor="end" font-weight="normal" fill="#202020" textLength="63.5" lengthAdjust="spacingAndGlyphs" stroke="#202020" stroke-width="0.12">Lanraplenib [5 µM]:</text>
<line x1="363.50" y1="463.70" x2="367.50" y2="463.70" stroke="#606060" stroke-width="1.0" />
<line x1="415.90" y1="463.70" x2="419.90" y2="463.70" stroke="#606060" stroke-width="1.0" />
<line x1="467.95" y1="463.70" x2="471.85" y2="463.70" stroke="#333" stroke-width="0.85" />
<line x1="469.90" y1="461.75" x2="469.90" y2="465.65" stroke="#333" stroke-width="0.85" />
<text x="323.00" y="480.80" font-size="7.4" text-anchor="end" font-weight="normal" fill="#202020" textLength="30.4" lengthAdjust="spacingAndGlyphs" stroke="#202020" stroke-width="0.12">IgG from:</text>
<line x1="346.90" y1="470.90" x2="485.40" y2="470.90" stroke="#6a6a6a" stroke-width="1.5" />
<text x="416.40" y="480.10" font-size="7.3" text-anchor="middle" font-weight="normal" fill="#202020"  stroke="#202020" stroke-width="0.12">VITT</text>
<rect x="0.5" y="0.5" width="519" height="488" fill="none" stroke="#646464" stroke-width="1"/>
</svg></body></html>
